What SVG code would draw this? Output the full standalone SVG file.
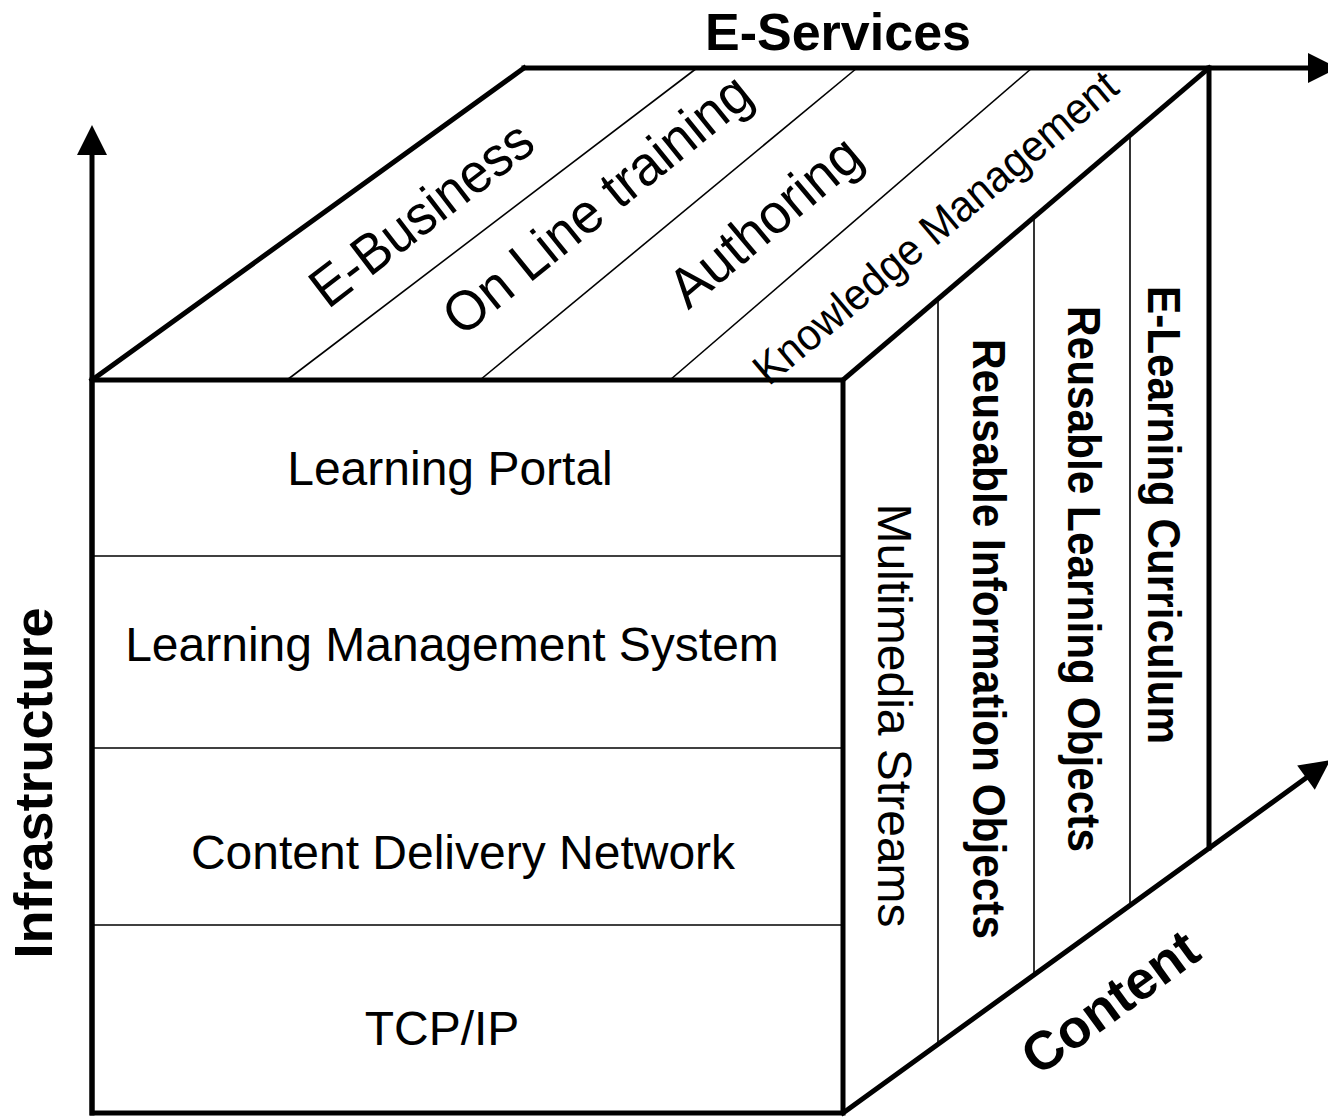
<svg xmlns="http://www.w3.org/2000/svg" width="1328" height="1117" viewBox="0 0 1328 1117">
<style>
.thick{stroke:#000;stroke-width:5;fill:none;stroke-linecap:square}
.thin{stroke:#000;stroke-width:1.6;fill:none}
.reg{font-family:"Liberation Sans",Arial,sans-serif;font-size:48px;fill:#000}
.top{font-family:"Liberation Sans",Arial,sans-serif;font-size:56px;fill:#000;text-anchor:middle}
.bold{font-family:"Liberation Sans",Arial,sans-serif;font-weight:bold;fill:#000;text-anchor:middle}
.mid{text-anchor:middle}
</style>
<rect width="1328" height="1117" fill="#fff"/>

<g id="front-face">
  <rect x="92" y="380" width="751" height="733" class="thick"/>
  <line x1="92" y1="556" x2="843" y2="556" class="thin"/>
  <line x1="92" y1="748" x2="843" y2="748" class="thin"/>
  <line x1="92" y1="925" x2="843" y2="925" class="thin"/>
</g>
<g id="learning-portal"><text x="450" y="485" class="reg mid">Learning Portal</text></g>
<g id="lms"><text x="452" y="661" class="reg mid">Learning Management System</text></g>
<g id="cdn"><text x="463" y="869" class="reg mid">Content Delivery Network</text></g>
<g id="tcpip"><text x="442" y="1045" class="reg mid">TCP/IP</text></g>

<g id="top-face">
  <line x1="92" y1="380" x2="524" y2="68" class="thick"/>
  <line x1="843" y1="380" x2="1209" y2="68" class="thick"/>
  <line x1="287" y1="380" x2="697" y2="68" class="thin"/>
  <line x1="480" y1="380" x2="857" y2="68" class="thin"/>
  <line x1="670" y1="380" x2="1032" y2="68" class="thin"/>
</g>
<g id="e-business"><text class="top" textLength="265" lengthAdjust="spacingAndGlyphs" transform="translate(433,229) rotate(-37.5)">E-Business</text></g>
<g id="online-training"><text class="top" textLength="378" lengthAdjust="spacingAndGlyphs" transform="translate(609,219) rotate(-39)">On Line training</text></g>
<g id="authoring"><text class="top" textLength="232" lengthAdjust="spacingAndGlyphs" transform="translate(777,236) rotate(-40)">Authoring</text></g>
<g id="knowledge-management"><text class="top" style="font-size:44px" textLength="460" lengthAdjust="spacingAndGlyphs" transform="translate(945,239) rotate(-40)">Knowledge Management</text></g>

<g id="right-face">
  <line x1="1209" y1="68" x2="1209" y2="848" class="thick"/>
  <line x1="938" y1="299" x2="938" y2="1045" class="thin"/>
  <line x1="1034" y1="217" x2="1034" y2="975" class="thin"/>
  <line x1="1130" y1="135" x2="1130" y2="904" class="thin"/>
</g>
<g id="multimedia-streams"><text class="reg mid" transform="translate(878,715.5) rotate(90)">Multimedia Streams</text></g>
<g id="reusable-information-objects"><text class="bold" style="font-size:47px" textLength="600" lengthAdjust="spacingAndGlyphs" transform="translate(973,639) rotate(90)">Reusable Information Objects</text></g>
<g id="reusable-learning-objects"><text class="bold" style="font-size:46px" textLength="546" lengthAdjust="spacingAndGlyphs" transform="translate(1068,579) rotate(90)">Reusable Learning Objects</text></g>
<g id="e-learning-curriculum"><text class="bold" style="font-size:47px" textLength="458" lengthAdjust="spacingAndGlyphs" transform="translate(1148,515) rotate(90)">E-Learning Curriculum</text></g>

<g id="connectors">
  <line x1="92" y1="1113" x2="92" y2="150" class="thick"/>
  <polygon points="92,125 77,155 107,155" fill="#000"/>
  <line x1="524" y1="68" x2="1310" y2="68" class="thick"/>
  <polygon points="1338,68 1308,53 1308,83" fill="#000"/>
  <line x1="843" y1="1113" x2="1306" y2="778" class="thick"/>
  <polygon points="1330.3,760.1 1314.8,789.8 1297.2,765.6" fill="#000"/>
</g>
<g id="label-e-services"><text x="838" y="50" class="bold" style="font-size:52px">E-Services</text></g>
<g id="label-infrastructure"><text class="bold" style="font-size:54px" transform="translate(52,783) rotate(-90)">Infrastructure</text></g>
<g id="label-content"><text class="bold" style="font-size:54px" transform="translate(1121,1017) rotate(-36)">Content</text></g>
</svg>
